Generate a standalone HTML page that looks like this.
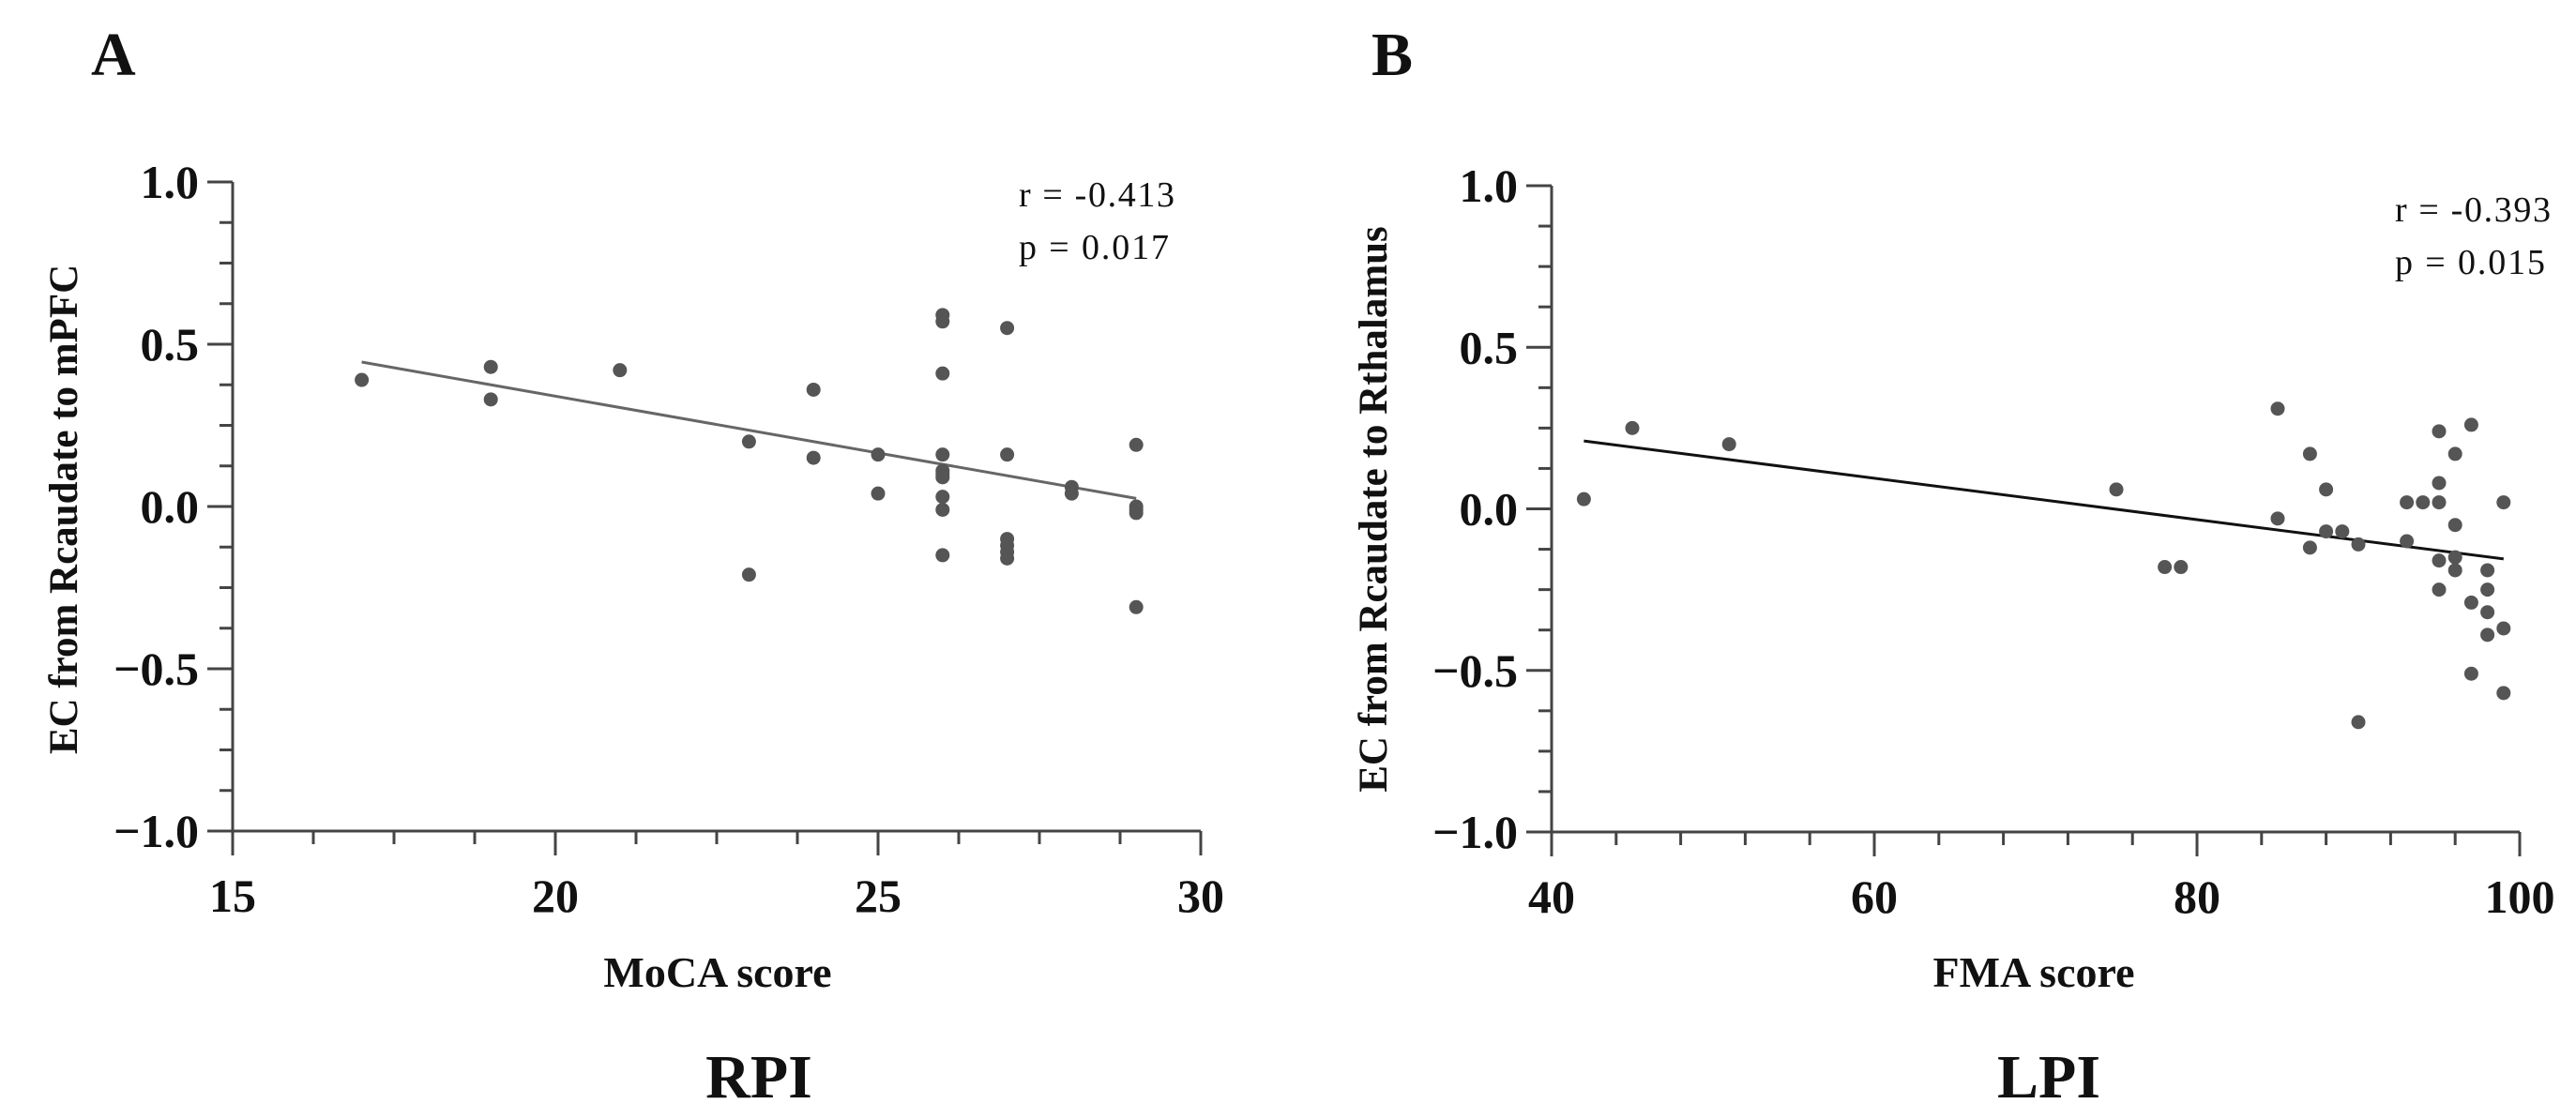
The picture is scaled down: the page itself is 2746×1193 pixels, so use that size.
<!DOCTYPE html>
<html><head><meta charset="utf-8"><style>
html,body{margin:0;padding:0;background:#fff;}
svg{display:block;font-family:"Liberation Serif",serif;}
</style></head><body>
<svg id="chart" width="2746" height="1193" viewBox="0 0 2746 1193" xmlns="http://www.w3.org/2000/svg">
<text x="97" y="80" font-size="66" font-weight="bold" fill="#111">A</text>
<text x="1462" y="80" font-size="66" font-weight="bold" fill="#111">B</text>
<g id="pa"></g>
<g id="pb"></g>
</svg>
<script>
const aX=[17,19,19,21,23,23,24,24,25,25,26,26,26,26,26,26,26,26,26,26,27,27,27,27,27,27,28,28,29,29,29,29,29];
const aY=[0.39,0.43,0.33,0.42,0.20,-0.21,0.36,0.15,0.16,0.04,0.59,0.57,0.41,0.16,0.11,0.10,0.09,0.03,-0.01,-0.15,0.55,0.16,-0.10,-0.12,-0.14,-0.16,0.06,0.04,0.19,0.00,-0.01,-0.02,-0.31];
const aFit=[[17,0.445],[29,0.025]];
const aXTicks=[15,20,25,30];
const bX=[42,45,51,75,78,79,85,85,87,87,88,88,89,90,90,93,93,94,95,95,95,95,95,96,96,96,96,97,97,97,98,98,98,98,99,99,99];
const bY=[0.03,0.25,0.20,0.06,-0.18,-0.18,0.31,-0.03,0.17,-0.12,0.06,-0.07,-0.07,-0.11,-0.66,0.02,-0.10,0.02,0.24,0.08,0.02,-0.16,-0.25,0.17,-0.05,-0.15,-0.19,0.26,-0.29,-0.51,-0.19,-0.25,-0.32,-0.39,0.02,-0.37,-0.57];
const bFit=[[42,0.21],[99,-0.155]];
const bXTicks=[40,60,80,100];
const yTicks=[1.0,0.5,0.0,-0.5,-1.0];
const yTickLabels=["1.0","0.5","0.0","\u22120.5","\u22121.0"];
const NS="http://www.w3.org/2000/svg";
function mk(p,t,a){const e=document.createElementNS(NS,t);for(const k in a)e.setAttribute(k,a[k]);p.appendChild(e);return e;}
function panel(g,cfg){
  const sx=v=>cfg.x0+(v-cfg.xmin)/(cfg.xmax-cfg.xmin)*(cfg.x1-cfg.x0);
  const sy=v=>cfg.y1-(v+1)/2*(cfg.y1-cfg.y0);
  const c="#444";
  let e=mk(g,'line',{x1:cfg.x0,y1:cfg.y0,x2:cfg.x0,y2:cfg.y1+26,stroke:c,'stroke-width':3});
  
  
  e=mk(g,'line',{x1:cfg.x0-27,y1:cfg.y1,x2:cfg.x1,y2:cfg.y1,stroke:c,'stroke-width':3});
  
  
  for(let i=0;i<=16;i++){const v=1-i*0.125;const y=sy(v);const major=i%4===0;
    if(i===16)continue;
    e=mk(g,'line',{x1:cfg.x0-(major?27:14),y1:y,x2:cfg.x0,y2:y,stroke:c,'stroke-width':3});
    
    }
  yTicks.forEach((v,i)=>{e=mk(g,'text',{x:cfg.x0-36,y:sy(v)+17,'text-anchor':'end','font-size':50,'font-weight':'bold',fill:'#111'});e.textContent=yTickLabels[i];
    
    });
  const step=(cfg.xmax-cfg.xmin)/cfg.nMinor;
  for(let i=0;i<=cfg.nMinor;i++){const v=cfg.xmin+i*step;const x=sx(v);const major=cfg.xt.some(t=>Math.abs(t-v)<1e-6);
    if(i===0)continue;
    e=mk(g,'line',{x1:x,y1:cfg.y1,x2:x,y2:cfg.y1+(major?26:14),stroke:c,'stroke-width':3});
    
    }
  cfg.xt.forEach(v=>{e=mk(g,'text',{x:sx(v),y:cfg.y1+86,'text-anchor':'middle','font-size':50,'font-weight':'bold',fill:'#111'});e.textContent=v;
    
    });
  e=mk(g,'line',{x1:sx(cfg.fit[0][0]),y1:sy(cfg.fit[0][1]),x2:sx(cfg.fit[1][0]),y2:sy(cfg.fit[1][1]),stroke:cfg.lc,'stroke-width':3});
  
  
  cfg.xs.forEach((v,i)=>{e=mk(g,'circle',{cx:sx(v),cy:sy(cfg.ys[i]),r:7.5,fill:'#555'});
    
    });
  e=mk(g,'text',{x:cfg.rx,y:cfg.ry,'font-size':38,fill:'#111',textLength:166});e.textContent=cfg.r;
  
  
  e=mk(g,'text',{x:cfg.rx,y:cfg.ry+56,'font-size':38,fill:'#111',textLength:160});e.textContent=cfg.p;
  
  
  e=mk(g,'text',{x:0,y:0,'font-size':43,'font-weight':'bold',fill:'#111','text-anchor':'middle',transform:`translate(${cfg.ylx},543) rotate(-90)`});e.textContent=cfg.yl;
  
  
  e=mk(g,'text',{x:cfg.xlx,y:1052,'font-size':46,'font-weight':'bold',fill:'#111','text-anchor':'middle'});e.textContent=cfg.xl;
  
  
  e=mk(g,'text',{x:cfg.xlx+(cfg.tx||0),y:1170,'font-size':66,'font-weight':'bold',fill:'#111','text-anchor':'middle'});e.textContent=cfg.title;
  
  
}
panel(document.getElementById('pa'),{x0:248,x1:1280,y0:194,y1:886,xmin:15,xmax:30,nMinor:12,xt:aXTicks,xs:aX,ys:aY,fit:aFit,lc:'#666',r:'r = -0.413',p:'p = 0.017',rx:1086,ry:220,yl:'EC from Rcaudate to mPFC',ylx:82,xl:'MoCA score',xlx:765,title:'RPI',tx:44});
panel(document.getElementById('pb'),{x0:1654,x1:2686,y0:198,y1:887,xmin:40,xmax:100,nMinor:15,xt:bXTicks,xs:bX,ys:bY,fit:bFit,lc:'#111',r:'r = -0.393',p:'p = 0.015',rx:2553,ry:236,yl:'EC from Rcaudate to Rthalamus',ylx:1478,xl:'FMA score',xlx:2168,title:'LPI',tx:16});
</script>
</body></html>
